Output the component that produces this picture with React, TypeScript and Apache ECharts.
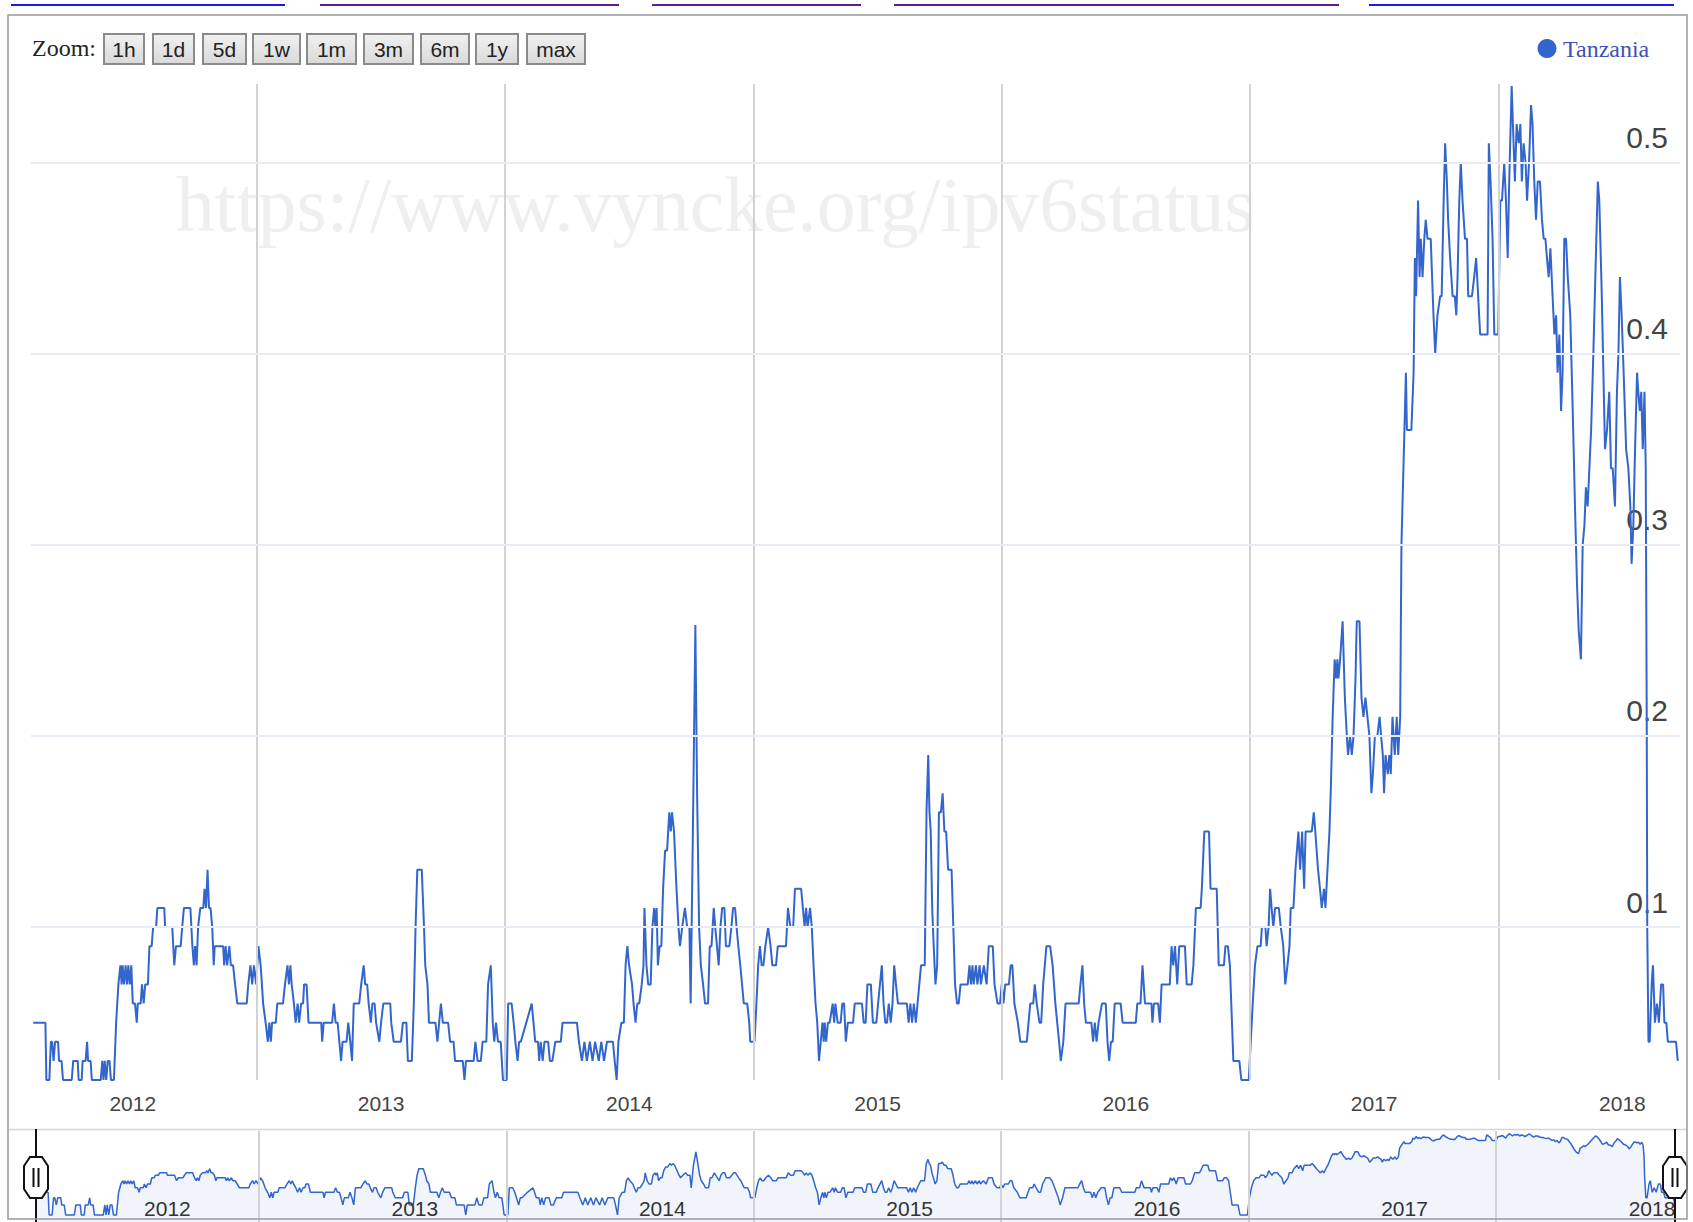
import React, { useEffect, useRef } from "react";
import * as echarts from "echarts";

// ---------------- data ----------------
const SERIES_NAME = "Tanzania";
const X_LABEL_YEARS = [2012, 2013, 2014, 2015, 2016, 2017, 2018];
const YEAR_GRIDLINES = [2013, 2014, 2015, 2016, 2017, 2018];
const Y_TICKS = [0.1, 0.2, 0.3, 0.4, 0.5];
const ZOOM_BUTTONS = ["1h", "1d", "5d", "1w", "1m", "3m", "6m", "1y", "max"];
const WATERMARK = "https://www.vyncke.org/ipv6status";

const SEG_2012_2014: [number, number][] = [
  [2012.099,0.05],[2012.148,0.05],[2012.152,0.02],[2012.164,0.02],[2012.170,0.04],[2012.175,0.04],[2012.181,0.03],[2012.187,0.04],[2012.199,0.04],[2012.203,0.03],[2012.213,0.03],[2012.219,0.02],[2012.254,0.02],[2012.260,0.03],[2012.278,0.03],[2012.282,0.02],[2012.294,0.02],[2012.298,0.03],[2012.310,0.03],[2012.316,0.04],[2012.320,0.03],[2012.330,0.03],[2012.335,0.02],[2012.371,0.02],[2012.377,0.03],[2012.382,0.02],[2012.387,0.03],[2012.393,0.02],[2012.399,0.03],[2012.406,0.03],[2012.412,0.02],[2012.424,0.02],[2012.433,0.05],[2012.442,0.07],[2012.450,0.08],[2012.455,0.07],[2012.459,0.08],[2012.465,0.07],[2012.471,0.08],[2012.477,0.07],[2012.482,0.08],[2012.488,0.07],[2012.494,0.08],[2012.500,0.06],[2012.509,0.06],[2012.516,0.05],[2012.520,0.06],[2012.532,0.06],[2012.537,0.07],[2012.544,0.06],[2012.550,0.07],[2012.561,0.07],[2012.567,0.09],[2012.576,0.09],[2012.582,0.10],[2012.594,0.10],[2012.599,0.11],[2012.627,0.11],[2012.630,0.10],[2012.659,0.10],[2012.667,0.08],[2012.674,0.09],[2012.693,0.09],[2012.699,0.10],[2012.706,0.11],[2012.732,0.11],[2012.740,0.09],[2012.746,0.08],[2012.751,0.09],[2012.757,0.08],[2012.763,0.10],[2012.772,0.11],[2012.784,0.11],[2012.789,0.12],[2012.795,0.11],[2012.801,0.13],[2012.807,0.11],[2012.813,0.11],[2012.820,0.10],[2012.826,0.08],[2012.830,0.09],[2012.864,0.09],[2012.868,0.08],[2012.874,0.09],[2012.880,0.08],[2012.889,0.09],[2012.895,0.08],[2012.904,0.08],[2012.912,0.07],[2012.921,0.06],[2012.959,0.06],[2012.965,0.07],[2012.974,0.08],[2012.981,0.07],[2012.988,0.08],[2012.997,0.07],[2013.006,0.09],[2013.015,0.08],[2013.025,0.06],[2013.035,0.05],[2013.044,0.04],[2013.050,0.05],[2013.056,0.04],[2013.061,0.05],[2013.076,0.05],[2013.082,0.06],[2013.105,0.06],[2013.113,0.07],[2013.123,0.08],[2013.129,0.07],[2013.135,0.08],[2013.140,0.07],[2013.149,0.06],[2013.156,0.05],[2013.164,0.06],[2013.170,0.05],[2013.178,0.06],[2013.186,0.06],[2013.190,0.07],[2013.200,0.07],[2013.208,0.05],[2013.259,0.05],[2013.263,0.04],[2013.269,0.05],[2013.303,0.05],[2013.310,0.06],[2013.317,0.05],[2013.325,0.05],[2013.332,0.04],[2013.339,0.03],[2013.345,0.04],[2013.361,0.04],[2013.368,0.05],[2013.376,0.04],[2013.383,0.03],[2013.390,0.06],[2013.412,0.06],[2013.420,0.07],[2013.430,0.08],[2013.436,0.07],[2013.444,0.07],[2013.450,0.06],[2013.459,0.05],[2013.465,0.06],[2013.474,0.06],[2013.480,0.05],[2013.493,0.04],[2013.500,0.05],[2013.509,0.06],[2013.537,0.06],[2013.541,0.05],[2013.551,0.04],[2013.580,0.04],[2013.588,0.05],[2013.602,0.05],[2013.608,0.03],[2013.624,0.03],[2013.632,0.06],[2013.639,0.10],[2013.646,0.13],[2013.664,0.13],[2013.673,0.10],[2013.678,0.08],[2013.687,0.07],[2013.693,0.05],[2013.719,0.05],[2013.727,0.04],[2013.734,0.05],[2013.741,0.06],[2013.749,0.05],[2013.770,0.05],[2013.778,0.04],[2013.792,0.04],[2013.798,0.03],[2013.829,0.03],[2013.836,0.02],[2013.842,0.03],[2013.873,0.03],[2013.880,0.04],[2013.889,0.03],[2013.902,0.03],[2013.909,0.04],[2013.924,0.04],[2013.931,0.07],[2013.942,0.08],[2013.950,0.05],[2013.956,0.04],[2013.963,0.05],[2013.971,0.04],[2013.982,0.04],[2013.991,0.02],[2014.006,0.02],[2014.012,0.06],[2014.026,0.06],[2014.034,0.05],[2014.041,0.04],[2014.050,0.03],[2014.056,0.04],[2014.063,0.04],[2014.085,0.05],[2014.107,0.06],[2014.114,0.05],[2014.121,0.04],[2014.132,0.04],[2014.137,0.03],[2014.143,0.04],[2014.151,0.03],[2014.158,0.04],[2014.173,0.04],[2014.180,0.03],[2014.190,0.03],[2014.202,0.04],[2014.224,0.04],[2014.231,0.05],[2014.289,0.05]
];

const SEG_2014_2016: [number, number][] = [
  [2014.297,0.04],[2014.309,0.03],[2014.319,0.04],[2014.329,0.03],[2014.341,0.04],[2014.352,0.03],[2014.362,0.04],[2014.377,0.03],[2014.387,0.04],[2014.398,0.03],[2014.410,0.04],[2014.434,0.04],[2014.441,0.03],[2014.449,0.02],[2014.456,0.04],[2014.468,0.05],[2014.478,0.05],[2014.485,0.08],[2014.492,0.09],[2014.499,0.08],[2014.511,0.07],[2014.517,0.06],[2014.525,0.05],[2014.532,0.06],[2014.540,0.06],[2014.550,0.07],[2014.557,0.08],[2014.561,0.11],[2014.569,0.08],[2014.576,0.07],[2014.586,0.07],[2014.593,0.10],[2014.600,0.11],[2014.605,0.10],[2014.610,0.11],[2014.615,0.08],[2014.622,0.09],[2014.629,0.09],[2014.636,0.12],[2014.644,0.14],[2014.652,0.14],[2014.661,0.16],[2014.667,0.15],[2014.672,0.16],[2014.680,0.15],[2014.690,0.12],[2014.698,0.10],[2014.704,0.09],[2014.713,0.10],[2014.724,0.11],[2014.733,0.10],[2014.742,0.10],[2014.747,0.06],[2014.756,0.15],[2014.766,0.258],[2014.773,0.17],[2014.781,0.10],[2014.788,0.08],[2014.797,0.07],[2014.805,0.06],[2014.817,0.06],[2014.824,0.09],[2014.831,0.09],[2014.840,0.11],[2014.846,0.10],[2014.853,0.09],[2014.860,0.08],[2014.867,0.10],[2014.874,0.11],[2014.883,0.11],[2014.889,0.09],[2014.903,0.09],[2014.911,0.10],[2014.918,0.11],[2014.926,0.11],[2014.932,0.10],[2014.939,0.09],[2014.947,0.08],[2014.954,0.07],[2014.961,0.06],[2014.975,0.06],[2014.983,0.05],[2014.987,0.04],[2015.004,0.04],[2015.012,0.06],[2015.019,0.08],[2015.026,0.09],[2015.033,0.08],[2015.040,0.08],[2015.048,0.09],[2015.059,0.10],[2015.069,0.09],[2015.076,0.08],[2015.091,0.08],[2015.098,0.09],[2015.131,0.09],[2015.139,0.11],[2015.149,0.10],[2015.160,0.10],[2015.167,0.12],[2015.192,0.12],[2015.199,0.11],[2015.206,0.10],[2015.212,0.11],[2015.218,0.10],[2015.228,0.11],[2015.235,0.10],[2015.242,0.08],[2015.250,0.06],[2015.257,0.05],[2015.264,0.03],[2015.271,0.04],[2015.278,0.05],[2015.283,0.04],[2015.287,0.05],[2015.293,0.04],[2015.300,0.05],[2015.307,0.05],[2015.319,0.06],[2015.325,0.05],[2015.330,0.06],[2015.339,0.05],[2015.351,0.05],[2015.358,0.06],[2015.365,0.06],[2015.372,0.04],[2015.380,0.05],[2015.401,0.05],[2015.408,0.06],[2015.437,0.06],[2015.444,0.05],[2015.452,0.05],[2015.459,0.07],[2015.473,0.07],[2015.481,0.05],[2015.495,0.05],[2015.502,0.06],[2015.517,0.08],[2015.524,0.06],[2015.531,0.05],[2015.538,0.05],[2015.545,0.06],[2015.553,0.05],[2015.560,0.06],[2015.567,0.08],[2015.574,0.07],[2015.582,0.06],[2015.618,0.06],[2015.625,0.05],[2015.632,0.06],[2015.639,0.05],[2015.646,0.06],[2015.654,0.05],[2015.661,0.06],[2015.668,0.07],[2015.675,0.08],[2015.690,0.08],[2015.697,0.16],[2015.704,0.19],[2015.709,0.16],[2015.714,0.15],[2015.720,0.11],[2015.726,0.09],[2015.733,0.07],[2015.740,0.08],[2015.747,0.16],[2015.755,0.16],[2015.762,0.17],[2015.769,0.15],[2015.776,0.15],[2015.784,0.13],[2015.798,0.13],[2015.805,0.10],[2015.812,0.07],[2015.820,0.06],[2015.827,0.06],[2015.834,0.07],[2015.863,0.07],[2015.870,0.08],[2015.876,0.07],[2015.882,0.08],[2015.887,0.07],[2015.896,0.08],[2015.902,0.07],[2015.911,0.08],[2015.916,0.07],[2015.928,0.08],[2015.939,0.07],[2015.948,0.09],[2015.964,0.09],[2015.971,0.07],[2015.983,0.06],[2015.993,0.06],[2016.000,0.07],[2016.007,0.06],[2016.014,0.07],[2016.029,0.07],[2016.036,0.08],[2016.043,0.08],[2016.051,0.06],[2016.065,0.05],[2016.075,0.04],[2016.101,0.04],[2016.108,0.05],[2016.115,0.06],[2016.127,0.06],[2016.133,0.07],[2016.141,0.06],[2016.152,0.05],[2016.159,0.05],[2016.167,0.07],[2016.180,0.09],[2016.195,0.09],[2016.205,0.08],[2016.216,0.06],[2016.231,0.04],[2016.238,0.03],[2016.248,0.04],[2016.257,0.06],[2016.289,0.06],[2016.310,0.06],[2016.317,0.07],[2016.325,0.08],[2016.332,0.06],[2016.339,0.05],[2016.361,0.05],[2016.368,0.04],[2016.375,0.05],[2016.382,0.04],[2016.390,0.05],[2016.404,0.06],[2016.419,0.06],[2016.426,0.04],[2016.433,0.03],[2016.440,0.04],[2016.447,0.04],[2016.455,0.06],[2016.479,0.06]
];

const SEG_2016_2017: [number, number][] = [
  [2016.487,0.05],[2016.540,0.05],[2016.546,0.06],[2016.559,0.06],[2016.567,0.08],[2016.577,0.06],[2016.603,0.06],[2016.607,0.05],[2016.613,0.06],[2016.630,0.06],[2016.637,0.05],[2016.644,0.07],[2016.677,0.07],[2016.684,0.09],[2016.691,0.08],[2016.698,0.09],[2016.707,0.07],[2016.715,0.09],[2016.738,0.09],[2016.745,0.07],[2016.765,0.07],[2016.772,0.08],[2016.782,0.11],[2016.801,0.11],[2016.806,0.12],[2016.816,0.15],[2016.835,0.15],[2016.841,0.12],[2016.866,0.12],[2016.874,0.08],[2016.895,0.08],[2016.901,0.09],[2016.911,0.09],[2016.919,0.08],[2016.933,0.03],[2016.957,0.03],[2016.965,0.02],[2016.995,0.02],[2017.003,0.04],[2017.011,0.06],[2017.020,0.08],[2017.030,0.09],[2017.043,0.09],[2017.048,0.10],[2017.062,0.10],[2017.067,0.09],[2017.075,0.10],[2017.081,0.12],[2017.087,0.11],[2017.094,0.10],[2017.101,0.11],[2017.116,0.11],[2017.124,0.10],[2017.134,0.09],[2017.142,0.07],[2017.151,0.08],[2017.159,0.09],[2017.164,0.11],[2017.175,0.11],[2017.183,0.13],[2017.195,0.15],[2017.202,0.13],[2017.210,0.15],[2017.218,0.12],[2017.224,0.15],[2017.249,0.15],[2017.257,0.16],[2017.263,0.15],[2017.274,0.13],[2017.282,0.12],[2017.289,0.11],[2017.298,0.12],[2017.304,0.11],[2017.312,0.13],[2017.320,0.15],[2017.325,0.17],[2017.333,0.21],[2017.341,0.24],[2017.347,0.23],[2017.352,0.24],[2017.356,0.23],[2017.363,0.24],[2017.373,0.26],[2017.382,0.22],[2017.390,0.20],[2017.395,0.19],[2017.403,0.20],[2017.410,0.19],[2017.417,0.20],[2017.425,0.23],[2017.430,0.26],[2017.441,0.26],[2017.449,0.22],[2017.457,0.21],[2017.465,0.22],[2017.473,0.21],[2017.481,0.20],[2017.489,0.17],[2017.495,0.18],[2017.503,0.20],[2017.513,0.20],[2017.522,0.21],[2017.528,0.20],[2017.535,0.19],[2017.540,0.17],[2017.546,0.19],[2017.555,0.18],[2017.561,0.19]
];

const SEG_2017_2018: [number, number][] = [
  [2017.567,0.18],[2017.574,0.21],[2017.583,0.19],[2017.591,0.21],[2017.597,0.19],[2017.605,0.21],[2017.610,0.30],[2017.618,0.34],[2017.628,0.39],[2017.632,0.36],[2017.650,0.36],[2017.659,0.39],[2017.664,0.45],[2017.669,0.43],[2017.677,0.48],[2017.683,0.44],[2017.688,0.46],[2017.695,0.44],[2017.702,0.46],[2017.708,0.47],[2017.715,0.46],[2017.728,0.46],[2017.739,0.42],[2017.746,0.40],[2017.755,0.42],[2017.766,0.43],[2017.772,0.43],[2017.780,0.48],[2017.786,0.51],[2017.793,0.49],[2017.798,0.47],[2017.806,0.45],[2017.816,0.43],[2017.825,0.43],[2017.831,0.42],[2017.836,0.44],[2017.843,0.48],[2017.849,0.50],[2017.856,0.48],[2017.866,0.46],[2017.874,0.46],[2017.879,0.43],[2017.887,0.43],[2017.894,0.43],[2017.903,0.44],[2017.911,0.45],[2017.919,0.43],[2017.927,0.41],[2017.957,0.41],[2017.962,0.51],[2017.969,0.49],[2017.977,0.46],[2017.984,0.41],[2018.000,0.41],[2018.008,0.48],[2018.015,0.48],[2018.024,0.50],[2018.031,0.48],[2018.038,0.45],[2018.044,0.49],[2018.054,0.54],[2018.059,0.52],[2018.067,0.49],[2018.074,0.52],[2018.082,0.51],[2018.089,0.52],[2018.095,0.49],[2018.102,0.51],[2018.110,0.50],[2018.116,0.48],[2018.124,0.50],[2018.132,0.53],[2018.138,0.52],[2018.145,0.49],[2018.152,0.47],[2018.159,0.49],[2018.168,0.49],[2018.176,0.47],[2018.183,0.46],[2018.190,0.46],[2018.196,0.45],[2018.203,0.44],[2018.210,0.455],[2018.217,0.435],[2018.226,0.41],[2018.233,0.42],[2018.239,0.39],[2018.246,0.41],[2018.253,0.37],[2018.259,0.39],[2018.266,0.46],[2018.273,0.46],[2018.280,0.44],[2018.290,0.42],[2018.300,0.37],[2018.309,0.32],[2018.317,0.28],[2018.324,0.255],[2018.333,0.24],[2018.340,0.30],[2018.347,0.31],[2018.353,0.33],[2018.360,0.32],[2018.367,0.34],[2018.374,0.36],[2018.383,0.40],[2018.391,0.44],[2018.401,0.49],[2018.407,0.48],[2018.417,0.43],[2018.425,0.38],[2018.430,0.35],[2018.438,0.36],[2018.447,0.38],[2018.454,0.34],[2018.461,0.34],[2018.470,0.32],[2018.478,0.38],[2018.484,0.40],[2018.490,0.44],[2018.497,0.42],[2018.505,0.39],[2018.515,0.35],[2018.524,0.34],[2018.532,0.32],[2018.537,0.29],[2018.544,0.31],[2018.551,0.35],[2018.559,0.39],[2018.564,0.38],[2018.570,0.37],[2018.576,0.38],[2018.582,0.35],[2018.589,0.38],[2018.594,0.34],[2018.598,0.21],[2018.600,0.10],[2018.605,0.04],[2018.610,0.04],[2018.618,0.07],[2018.623,0.08],[2018.631,0.05],[2018.639,0.06],[2018.647,0.05],[2018.656,0.07],[2018.664,0.07],[2018.669,0.05],[2018.677,0.05],[2018.683,0.04],[2018.710,0.04],[2018.716,0.04],[2018.723,0.03]
];

const TANZANIA = [...SEG_2012_2014, ...SEG_2014_2016, ...SEG_2016_2017, ...SEG_2017_2018];

// ---------------- layout / style ----------------
const W = 1693;
const H = 1222;
const SANS = '"Liberation Sans", Arial, sans-serif';
const SERIF = '"Liberation Serif", "Times New Roman", serif';
const LINE_BLUE = "#3366cc";

const X_MIN = 2012.09;
const X_MAX = 2018.732;
const NAV_X_MIN = 2012.099;
const NAV_X_MAX = 2018.723;
const NAV_LABEL_SHIFT = 0.63;

const BUTTON_SPANS = [
  [104, 144], [153, 194], [203, 246], [253, 300], [307, 356],
  [364, 413], [421, 469], [476, 518], [527, 585],
];

const LINK_UNDERLINES = [
  { x1: 11, x2: 285, color: "#1a1aee" },
  { x1: 320, x2: 619, color: "#5a1e8e" },
  { x1: 652, x2: 861, color: "#5a1e8e" },
  { x1: 894, x2: 1339, color: "#5a1e8e" },
  { x1: 1369, x2: 1674, color: "#1a1aee" },
];

function handle(cx: number) {
  const z = 60;
  const top = 1157;
  const bot = 1198;
  return [
    { type: "line", z, silent: true, shape: { x1: cx, y1: 1129, x2: cx, y2: H }, style: { stroke: "#111", lineWidth: 2 } },
    {
      type: "polygon", z: z + 1, silent: true,
      shape: {
        points: [
          [cx - 6, top], [cx + 6, top], [cx + 12, top + 9], [cx + 12, bot - 9],
          [cx + 6, bot], [cx - 6, bot], [cx - 12, bot - 9], [cx - 12, top + 9],
        ],
      },
      style: { fill: "#ffffff", stroke: "#111", lineWidth: 2 },
    },
    { type: "line", z: z + 2, silent: true, shape: { x1: cx - 2.5, y1: 1168, x2: cx - 2.5, y2: 1187 }, style: { stroke: "#111", lineWidth: 2 } },
    { type: "line", z: z + 2, silent: true, shape: { x1: cx + 2.5, y1: 1168, x2: cx + 2.5, y2: 1187 }, style: { stroke: "#111", lineWidth: 2 } },
  ];
}

function buildGraphics() {
  const g: any[] = [];
  LINK_UNDERLINES.forEach((l) => {
    g.push({ type: "line", silent: true, z: 5, shape: { x1: l.x1, y1: 5, x2: l.x2, y2: 5 }, style: { stroke: l.color, lineWidth: 2 } });
  });
  g.push({
    type: "text", silent: true, z: -5, x: 176, y: 205,
    style: { text: WATERMARK, fontFamily: SERIF, fontSize: 77.5, fill: "#efefef", align: "left", verticalAlign: "middle" },
  });
  g.push({
    type: "text", silent: true, z: 5, x: 32, y: 48,
    style: { text: "Zoom:", fontFamily: SERIF, fontSize: 24, fill: "#222", align: "left", verticalAlign: "middle" },
  });
  ZOOM_BUTTONS.forEach((label, i) => {
    const [a, b] = BUTTON_SPANS[i];
    g.push({
      type: "rect", silent: true, z: 5,
      shape: { x: a, y: 34, width: b - a, height: 30 },
      style: {
        fill: new echarts.graphic.LinearGradient(0, 0, 0, 1, [
          { offset: 0, color: "#f1f1f1" },
          { offset: 1, color: "#d9d9d9" },
        ]),
        stroke: "#8a8a8a", lineWidth: 2,
      },
    });
    g.push({
      type: "text", silent: true, z: 6, x: (a + b) / 2, y: 49.5,
      style: { text: label, fontFamily: SANS, fontSize: 21, fill: "#222", align: "center", verticalAlign: "middle" },
    });
  });
  g.push({ type: "circle", silent: true, z: 5, shape: { cx: 1547, cy: 48.5, r: 9.5 }, style: { fill: LINE_BLUE } });
  g.push({
    type: "text", silent: true, z: 5, x: 1563, y: 49,
    style: { text: SERIES_NAME, fontFamily: SERIF, fontSize: 24, fill: "#3f4fb5", align: "left", verticalAlign: "middle" },
  });
  g.push({ type: "line", silent: true, z: 5, shape: { x1: 9, y1: 1129.5, x2: 1686, y2: 1129.5 }, style: { stroke: "#d4d4d4", lineWidth: 1.5 } });
  g.push(...handle(36));
  g.push(...handle(1675));
  g.push({
    type: "rect", silent: true, z: 100,
    shape: { x: 8, y: 15, width: 1679, height: 1204 },
    style: { fill: "none", stroke: "#999", lineWidth: 1.5 },
  });
  return g;
}

function buildOption(): any {
  return {
    animation: false,
    backgroundColor: "#ffffff",
    grid: [
      { left: 31, right: 13, top: 84, bottom: 142 },
      { left: 36, right: 18, top: 1131, bottom: 0 },
    ],
    xAxis: [
      {
        type: "value", gridIndex: 0, min: X_MIN, max: X_MAX,
        axisLine: { show: false }, axisTick: { show: false }, splitLine: { show: false },
        axisLabel: {
          customValues: X_LABEL_YEARS.map((y) => y + 0.5),
          formatter: (v: number) => String(Math.floor(v)),
          margin: 13, fontSize: 21, lineHeight: 21, color: "#444", fontFamily: SANS,
        },
      },
      {
        type: "value", gridIndex: 1, min: NAV_X_MIN, max: NAV_X_MAX, z: 10,
        axisLine: { show: false }, axisTick: { show: false }, splitLine: { show: false },
        axisLabel: {
          customValues: X_LABEL_YEARS.map((y) => y + NAV_LABEL_SHIFT),
          formatter: (v: number) => String(Math.floor(v)),
          inside: true, margin: 3, fontSize: 21, lineHeight: 22, color: "#333", fontFamily: SANS,
        },
      },
    ],
    yAxis: [
      {
        type: "value", gridIndex: 0, min: 0.02, max: 0.541, position: "right",
        axisLine: { show: false }, axisTick: { show: false }, splitLine: { show: false },
        axisLabel: {
          customValues: Y_TICKS,
          formatter: (v: number) => v.toFixed(1),
          inside: true, margin: 12, fontSize: 30, lineHeight: 30,
          verticalAlign: "bottom", padding: [0, 0, 10, 0],
          color: "#444", fontFamily: SANS,
        },
      },
      {
        type: "log", gridIndex: 1, min: 0.015, max: 0.6, show: false,
      },
    ],
    series: [
      {
        name: "grid-main", type: "line", xAxisIndex: 0, yAxisIndex: 0, data: [], z: 1, silent: true,
        markLine: {
          silent: true, symbol: ["none", "none"], label: { show: false },
          data: [
            ...YEAR_GRIDLINES.map((y) => ({ xAxis: y, lineStyle: { color: "#d2d2d2", width: 2, type: "solid" } })),
            ...Y_TICKS.map((v) => ({ yAxis: v, lineStyle: { color: "#ebebf4", width: 2, type: "solid" } })),
          ],
        },
      },
      {
        name: "grid-nav", type: "line", xAxisIndex: 1, yAxisIndex: 1, data: [], z: 1, silent: true,
        markLine: {
          silent: true, symbol: ["none", "none"], label: { show: false },
          data: YEAR_GRIDLINES.map((y) => ({ xAxis: y, lineStyle: { color: "#d2d2d2", width: 2, type: "solid" } })),
        },
      },
      {
        name: SERIES_NAME, type: "line", xAxisIndex: 0, yAxisIndex: 0, data: TANZANIA,
        symbol: "none", showSymbol: false, z: 3, silent: true,
        lineStyle: { color: LINE_BLUE, width: 2 }, itemStyle: { color: LINE_BLUE },
      },
      {
        name: SERIES_NAME + " range", type: "line", xAxisIndex: 1, yAxisIndex: 1, data: TANZANIA,
        symbol: "none", showSymbol: false, z: 3, silent: true,
        lineStyle: { color: LINE_BLUE, width: 1.5 }, itemStyle: { color: LINE_BLUE },
        areaStyle: { color: "rgba(51,102,204,0.1)", origin: "start" },
      },
    ],
    graphic: buildGraphics(),
  };
}

export default function App() {
  const ref = useRef<HTMLDivElement>(null);
  useEffect(() => {
    document.body.style.margin = "0";
    const el = ref.current;
    if (!el) return;
    const chart = echarts.init(el, null, { renderer: "svg" });
    chart.setOption(buildOption());
    return () => chart.dispose();
  }, []);
  return <div ref={ref} style={{ width: W, height: H }} />;
}
